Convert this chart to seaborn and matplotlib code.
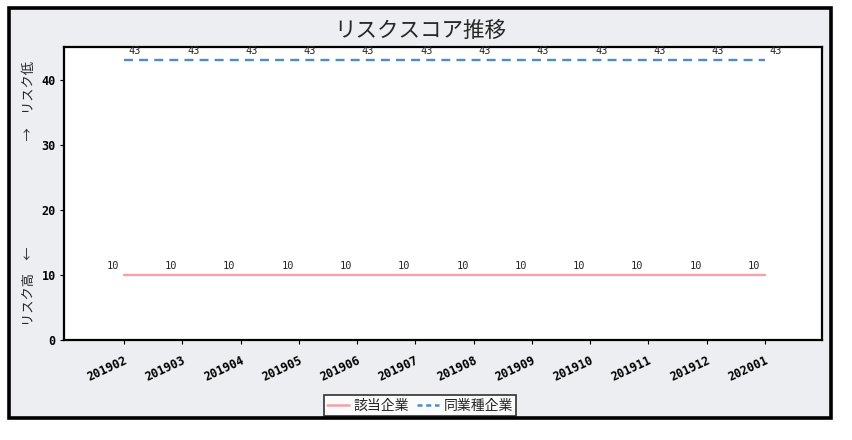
import matplotlib
matplotlib.use("Agg")
import matplotlib.pyplot as plt
import seaborn as sns
import pandas as pd
from matplotlib.patches import Rectangle
from matplotlib.lines import Line2D

months = ["201902", "201903", "201904", "201905", "201906", "201907",
          "201908", "201909", "201910", "201911", "201912", "202001"]
company = [10, 10, 10, 10, 10, 10, 10, 10, 10, 10, 10, 10]
industry = [43, 43, 43, 43, 43, 43, 43, 43, 43, 43, 43, 43]
series_names = ["該当企業", "同業種企業"]
title = "リスクスコア推移"
ylabel = "リスク高　←　　　　　　　　→　リスク低"

sns.set_style("white")
plt.rcParams['font.family'] = ['Noto Sans CJK JP', 'DejaVu Sans']

pink = "#F2A2A8"
blue = "#4F8BC9"
mono = "DejaVu Sans Mono"

idx = list(range(len(months)))
df = pd.DataFrame({
    "idx": idx * 2,
    "score": company + industry,
    "series": [series_names[0]] * len(months) + [series_names[1]] * len(months),
})

W, H = 852, 440
fig = plt.figure(figsize=(W / 100, H / 100), dpi=100)
fig.patch.set_facecolor("white")
frame = Rectangle((8.5 / W, 1 - 418 / H), (831 - 8.5) / W, (418 - 8.5) / H,
                  transform=fig.transFigure, facecolor="#EDEEF2",
                  edgecolor="black", linewidth=2.6, zorder=-10)
fig.patches.append(frame)

ax = fig.add_axes([64 / W, 1 - 340 / H, (822 - 64) / W, (340 - 47) / H])
ax.set_zorder(2)
ax.set_facecolor("white")

sns.lineplot(data=df, x="idx", y="score", hue="series", style="series",
             palette={series_names[0]: pink, series_names[1]: blue},
             dashes={series_names[0]: "", series_names[1]: (3.8, 2.6)},
             linewidth=1.7, legend=False, ax=ax)

for i, v in zip(idx, company):
    ax.annotate(str(v), (i, v), xytext=(-8, 3), textcoords="offset points",
                ha="center", va="bottom", fontsize=7.5, family=mono)
for i, v in zip(idx, industry):
    ax.annotate(str(v), (i, v), xytext=(8, 3), textcoords="offset points",
                ha="center", va="bottom", fontsize=7.5, family=mono)

ax.set_xlim(-1.03, 11.98)
ax.set_ylim(0, 45)
ax.set_xticks(idx)
ax.set_xticklabels(months, rotation=25, ha="right", rotation_mode="anchor",
                   fontsize=8.5, family=mono, fontweight="bold")
ax.set_yticks([0, 10, 20, 30, 40])
ax.set_yticklabels(["0", "10", "20", "30", "40"], fontsize=8.5, family=mono,
                   fontweight="bold")
ax.tick_params(axis="both", which="both", direction="out", length=3, width=0.8,
               colors="black", bottom=True, left=True, pad=3)
ax.tick_params(axis="x", pad=7)
for s in ax.spines.values():
    s.set_color("black")
    s.set_linewidth(1.6)
ax.set_xlabel("")
ax.set_ylabel(ylabel, fontsize=9.5, labelpad=4)

fig.text(420 / W, 1 - 31 / H, title, ha="center", va="center", fontsize=15.5)

handles = [Line2D([0], [0], color=pink, lw=1.8),
           Line2D([0], [0], color=blue, lw=1.8, dashes=(2, 1.5))]
leg = fig.legend(handles, series_names, loc="center", bbox_to_anchor=(420 / W, 1 - 405.5 / H),
                 ncol=2, frameon=True, fontsize=10, handlelength=1.6, handletextpad=0.3,
                 columnspacing=0.6, borderpad=0.25, fancybox=False)
leg.get_frame().set_edgecolor("black")
leg.get_frame().set_linewidth(1.2)
leg.get_frame().set_facecolor("white")
leg.set_zorder(3)

fig.savefig("out.png", dpi=100)
